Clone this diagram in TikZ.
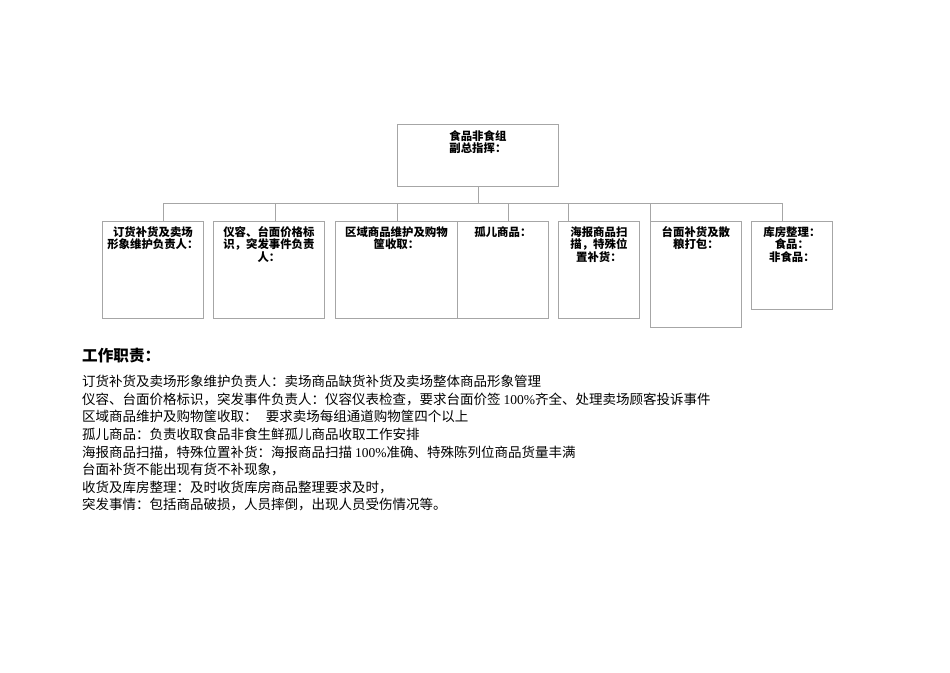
\documentclass[tikz,border=0pt]{standalone}
\usepackage{fontspec}
\setmainfont{Liberation Serif}
\newfontfamily\cjk{Noto Sans CJK SC}

\begin{document}
\begin{tikzpicture}[x=1pt,y=-1pt,
  box/.style={draw=gray!70,line width=0.8pt,anchor=north west,inner sep=0pt},
  lbl/.style={font={\cjk\bfseries\fontsize{11.4}{12.6}\selectfont},align=center,inner sep=0pt,anchor=north},
  link/.style={draw=gray!70,line width=0.8pt}]
\useasboundingbox (0,0) rectangle (950,672);
\node[box,minimum width=161pt,minimum height=62pt,
  label={[lbl,align=left,yshift=-6pt]north:{食品非食组\\副总指挥：}}] (top) at (397,124) {};
\node[box,minimum width=101pt,minimum height=97pt,
  label={[lbl,yshift=-5pt]north:{订货补货及卖场\\形象维护负责人：}}] (b1) at (102,221) {};
\node[box,minimum width=111pt,minimum height=97pt,
  label={[lbl,yshift=-5pt]north:{仪容、台面价格标\\识，突发事件负责\\人：}}] (b2) at (213,221) {};
\node[box,minimum width=122pt,minimum height=97pt,
  label={[lbl,yshift=-5pt]north:{区域商品维护及购物\\筐收取：}}] (b3) at (335,221) {};
\node[box,minimum width=91pt,minimum height=97pt,
  label={[lbl,yshift=-5pt]north:{孤儿商品：}}] (b4) at (457,221) {};
\node[box,minimum width=81pt,minimum height=97pt,
  label={[lbl,yshift=-5pt]north:{海报商品扫\\描，特殊位\\置补货：}}] (b5) at (558,221) {};
\node[box,minimum width=91pt,minimum height=106pt,
  label={[lbl,yshift=-5pt]north:{台面补货及散\\粮打包：}}] (b6) at (650,221) {};
\node[box,minimum width=81pt,minimum height=88pt,
  label={[lbl,yshift=-5pt]north:{库房整理：\\食品：\\非食品：}}] (b7) at (751,221) {};
% bus line and drops
\coordinate (d1) at (163,203);
\coordinate (d2) at (275,203);
\coordinate (d3) at (397,203);
\coordinate (d4) at (508,203);
\coordinate (d5) at (568,203);
\coordinate (d6) at (650,203);
\coordinate (d7) at (782,203);
\draw[link] (top.south) -- (top.south |- d1);
\draw[link] (d1) -- (d7);
\foreach \i in {1,...,7}{\draw[link] (d\i) -- (b\i.north -| d\i);}
% duties
\node[anchor=west,inner sep=0pt,font={\cjk\bfseries\fontsize{15.6}{18}\selectfont}] (head) at (82,356) {工作职责：};
\node[anchor=north west,inner sep=0pt,align=left,font={\cjk\fontsize{13.5}{17.6}\selectfont}] (duty) at (82,375)
 {订货补货及卖场形象维护负责人：卖场商品缺货补货及卖场整体商品形象管理\\
 仪容、台面价格标识，突发事件负责人：仪容仪表检查，要求台面价签 {\rmfamily 100\%}齐全、处理卖场顾客投诉事件\\
 区域商品维护及购物筐收取：\hspace{0.6em}要求卖场每组通道购物筐四个以上\\
 孤儿商品：负责收取食品非食生鲜孤儿商品收取工作安排\\
 海报商品扫描，特殊位置补货：海报商品扫描 {\rmfamily 100\%}准确、特殊陈列位商品货量丰满\\
 台面补货不能出现有货不补现象，\\
 收货及库房整理：及时收货库房商品整理要求及时，\\
 突发事情：包括商品破损，人员摔倒，出现人员受伤情况等。};
\end{tikzpicture}
\end{document}
